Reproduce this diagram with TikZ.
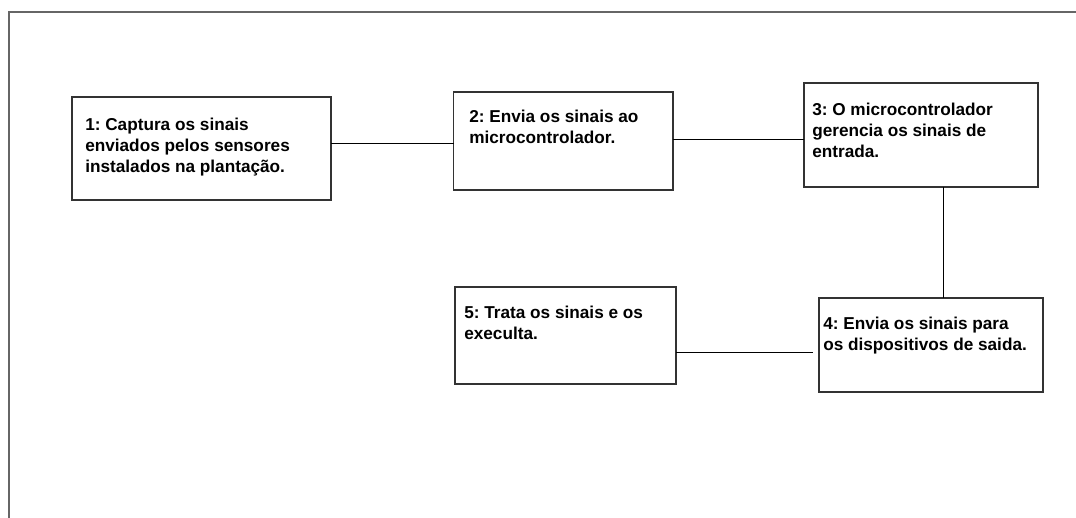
\documentclass[tikz,border=0pt]{standalone}
\usepackage{fontspec}
\setmainfont{Liberation Sans}
\usepackage{tikz}

\begin{document}
\frenchspacing
\begin{tikzpicture}[x=0.75pt,y=-0.75pt,
  boite/.style={draw=black!80,line width=1.1pt,outer sep=0pt,inner sep=0pt,anchor=north west},
  texte/.style={anchor=north west,inner sep=0pt,align=left,font=\bfseries\fontsize{12.9pt}{15.75pt}\selectfont},
  liaison/.style={line width=0.75pt}]
\useasboundingbox (0,0) rectangle (1076,518);

%cadre
\draw[gray!80!black,line width=1.5pt] (9,518) -- (9,12) -- (1076,12);
%fin

%boites
\node[boite,minimum width=194.25pt,minimum height=77.25pt] (b1) at (72,97) {};
\node[texte] (t1) at ([shift={(13,20.5)}]b1.north west) {1: Captura os sinais\\enviados pelos sensores\\instalados na plantação.};

\node[boite,minimum width=164.6pt,minimum height=73.5pt] (b2) at (453.5,92) {};
\node[texte] (t2) at ([shift={(15.5,18)}]b2.north west) {2: Envia os sinais ao\\microcontrolador.};

\node[boite,minimum width=175.5pt,minimum height=78pt] (b3) at (804,83) {};
\node[texte] (t3) at ([shift={(8,19.5)}]b3.north west) {3: O microcontrolador\\gerencia os sinais de\\entrada.};

\node[boite,minimum width=168pt,minimum height=70.5pt] (b4) at (819,298) {};
\node[texte] (t4) at ([shift={(4,18.5)}]b4.north west) {4: Envia os sinais para\\os dispositivos de saida.};

\node[boite,minimum width=165.75pt,minimum height=72.75pt] (b5) at (455,287) {};
\node[texte] (t5) at ([shift={(9,18.5)}]b5.north west) {5: Trata os sinais e os\\execulta.};
%fin

%liaisons
\draw[liaison] ([shift={(0,-5.5)}]b1.east) coordinate (c12) -- (c12 -| b2.west);
\draw[liaison] ([shift={(0,-2)}]b2.east) coordinate (c23) -- (c23 -| b3.west);
\draw[liaison] ([shift={(22,0)}]b3.south) coordinate (c34) -- (c34 |- b4.north);
\draw[liaison,shorten >=4.5pt] ([shift={(0,16.5)}]b5.east) coordinate (c45) -- (c45 -| b4.west);
%fin
\end{tikzpicture}
\end{document}
